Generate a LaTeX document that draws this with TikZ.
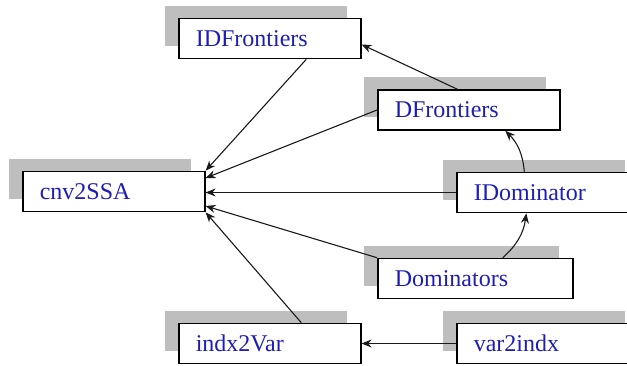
\documentclass[tikz,border=0pt]{standalone}
\usepackage{fontspec}
\setmainfont{Liberation Serif}
\usetikzlibrary{arrows.meta,calc,shadows}
\definecolor{FnBlue}{HTML}{1E1EB4}
\definecolor{Shade}{HTML}{BEBEBE}
\definecolor{Wire}{HTML}{1A1A1A}

\begin{document}
\begin{tikzpicture}[x=0.5pt,y=-0.5pt,
  fnbox/.style={draw=black,line width=0.8pt,fill=white,text=FnBlue,
    font=\fontsize{12pt}{14pt}\selectfont,text width=74pt,align=left,
    inner xsep=8.5pt,minimum height=20pt,anchor=west,
    general shadow={fill=Shade,shadow xshift=-6.75pt,shadow yshift=6.5pt}},
  call/.style={Wire,line width=0.55pt,-{Stealth[length=5pt,width=4pt]}}]
  \fill[white] (0,0) rectangle (627,365);
  \useasboundingbox (0,0) rectangle (627,365);
  % functions
  \node[fnbox] (idf) at (178,38.5) {IDFrontiers};
  \node[fnbox] (cnv) at (22,191.5) {cnv2SSA};
  \node[fnbox] (dfr) at (377,110) {DFrontiers};
  \node[fnbox] (idom) at (456,192.5) {IDominator};
  \node[fnbox,text width=80.5pt] (dom) at (377,278.5) {Dominators};
  \node[fnbox] (i2v) at (178,343.5) {indx2Var};
  \node[fnbox] (v2i) at (456,343.5) {var2indx};
  % calls
  \draw[call] ($(idf.south)+(36.5,0)$) -- (cnv.north east);
  \draw[call] ($(dfr.north)+(-11.5,0)$) -- ($(idf.east)+(0,6)$);
  \draw[call] (dfr.west) -- ($(cnv.east)+(0,-13.5)$);
  \draw[call] (idom.west) -- (idom.west -| cnv.east);
  \draw[call] ($(idom.north)+(-23.5,0)$) to[bend right=20] ($(dfr.south)+(36.5,0)$);
  \draw[call] (dom.north west) -- ($(cnv.east)+(0,14.5)$);
  \draw[call] ($(dom.north)+(27.5,0)$) to[bend right=20] ($(idom.south)+(-21.5,0)$);
  \draw[call] ($(i2v.north)+(31.5,0)$) -- (cnv.south east);
  \draw[call] (v2i.west) -- (i2v.east);
\end{tikzpicture}
\end{document}
